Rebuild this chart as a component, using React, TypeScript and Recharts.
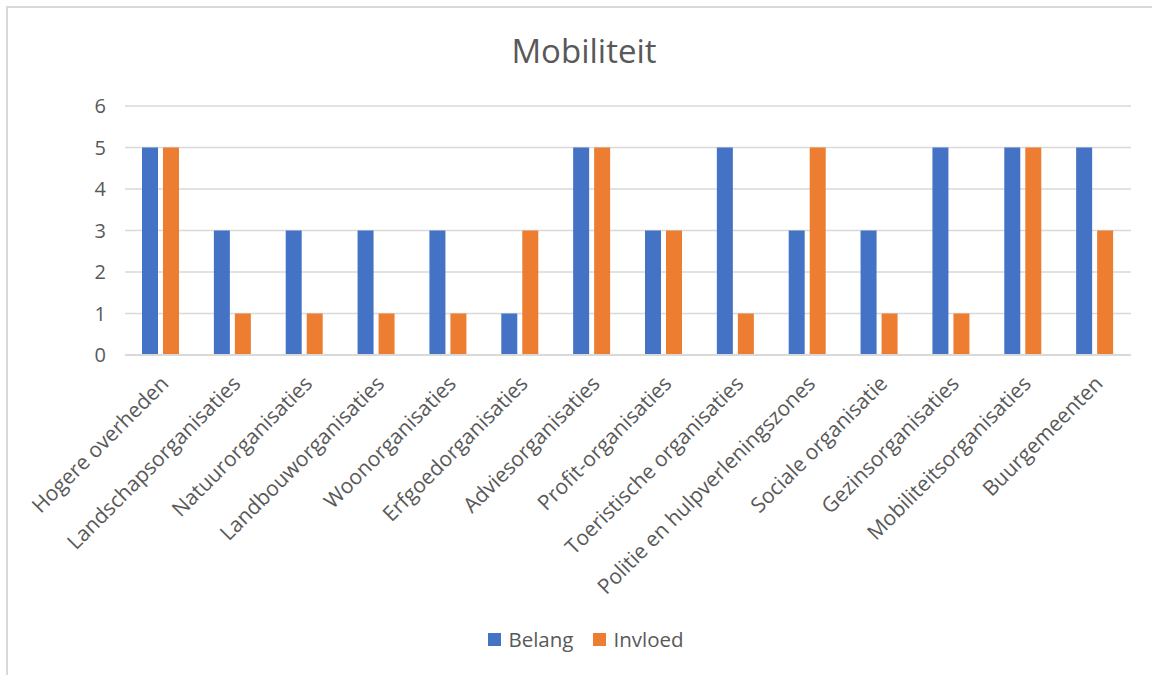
import React from "react";
import { BarChart, Bar, XAxis, YAxis, CartesianGrid } from "recharts";

const categories = [
  "Hogere overheden",
  "Landschapsorganisaties",
  "Natuurorganisaties",
  "Landbouworganisaties",
  "Woonorganisaties",
  "Erfgoedorganisaties",
  "Adviesorganisaties",
  "Profit-organisaties",
  "Toeristische organisaties",
  "Politie en hulpverleningszones",
  "Sociale organisatie",
  "Gezinsorganisaties",
  "Mobiliteitsorganisaties",
  "Buurgemeenten",
];
const belang = [5, 3, 3, 3, 3, 1, 5, 3, 5, 3, 3, 5, 5, 5];
const invloed = [5, 1, 1, 1, 1, 3, 5, 3, 1, 5, 1, 1, 5, 3];
const yTicks = [0, 1, 2, 3, 4, 5, 6];

const data = categories.map((name, i) => ({ name, Belang: belang[i], Invloed: invloed[i] }));

const FONT = "'Open Sans', 'Noto Sans', sans-serif";
const TEXT = "#595959";
const BLUE = "#4472C4";
const ORANGE = "#ED7D31";

const XTick = (props: any) => {
  const { x, y, payload } = props;
  const ax = x + 9;
  const ay = y + 22;
  return (
    <text
      x={ax}
      y={ay}
      transform={`rotate(-45 ${ax} ${ay})`}
      textAnchor="end"
      fill={TEXT}
      fontSize={21}
      fontFamily={FONT}
    >
      {payload.value}
    </text>
  );
};

export default function App() {
  return (
    <div style={{ position: "absolute", left: 0, top: 0, width: 1152, height: 675, background: "#fff", overflow: "hidden" }}>
      <div
        style={{
          position: "absolute",
          left: 6,
          top: 6,
          width: 1160,
          height: 700,
          borderLeft: "2px solid #d9d9d9",
          borderTop: "2px solid #d9d9d9",
          boxSizing: "border-box",
        }}
      />
      <div
        style={{
          position: "absolute",
          left: 0,
          top: 28,
          width: 1168,
          textAlign: "center",
          fontFamily: FONT,
          fontSize: 33,
          color: TEXT,
          lineHeight: "46px",
        }}
      >
        Mobiliteit
      </div>
      <div style={{ position: "absolute", left: 0, top: 0 }}>
        <BarChart
          width={1152}
          height={675}
          data={data}
          margin={{ top: 106, right: 21, left: 65, bottom: 70 }}
          barGap={5}
          barSize={16}
        >
          <CartesianGrid vertical={false} stroke="#d9d9d9" strokeWidth={1.5} />
          <XAxis
            dataKey="name"
            interval={0}
            tickLine={false}
            axisLine={{ stroke: "#d9d9d9", strokeWidth: 2 }}
            tick={<XTick />}
            height={250}
          />
          <YAxis
            domain={[0, 6]}
            ticks={yTicks}
            axisLine={false}
            tickLine={false}
            width={60}
            tickMargin={13}
            tick={{ fill: TEXT, fontSize: 20, fontFamily: FONT }}
          />
          <Bar dataKey="Belang" fill={BLUE} isAnimationActive={false} />
          <Bar dataKey="Invloed" fill={ORANGE} isAnimationActive={false} />
        </BarChart>
      </div>
      <div
        style={{
          position: "absolute",
          left: 0,
          top: 625,
          width: 1172,
          display: "flex",
          justifyContent: "center",
          fontFamily: FONT,
          fontSize: 20.5,
          color: TEXT,
        }}
      >
        <div style={{ display: "flex", alignItems: "center", marginRight: 20 }}>
          <span style={{ display: "inline-block", width: 13, height: 13, background: BLUE, marginRight: 7 }} />
          Belang
        </div>
        <div style={{ display: "flex", alignItems: "center" }}>
          <span style={{ display: "inline-block", width: 13, height: 13, background: ORANGE, marginRight: 7 }} />
          Invloed
        </div>
      </div>
    </div>
  );
}
